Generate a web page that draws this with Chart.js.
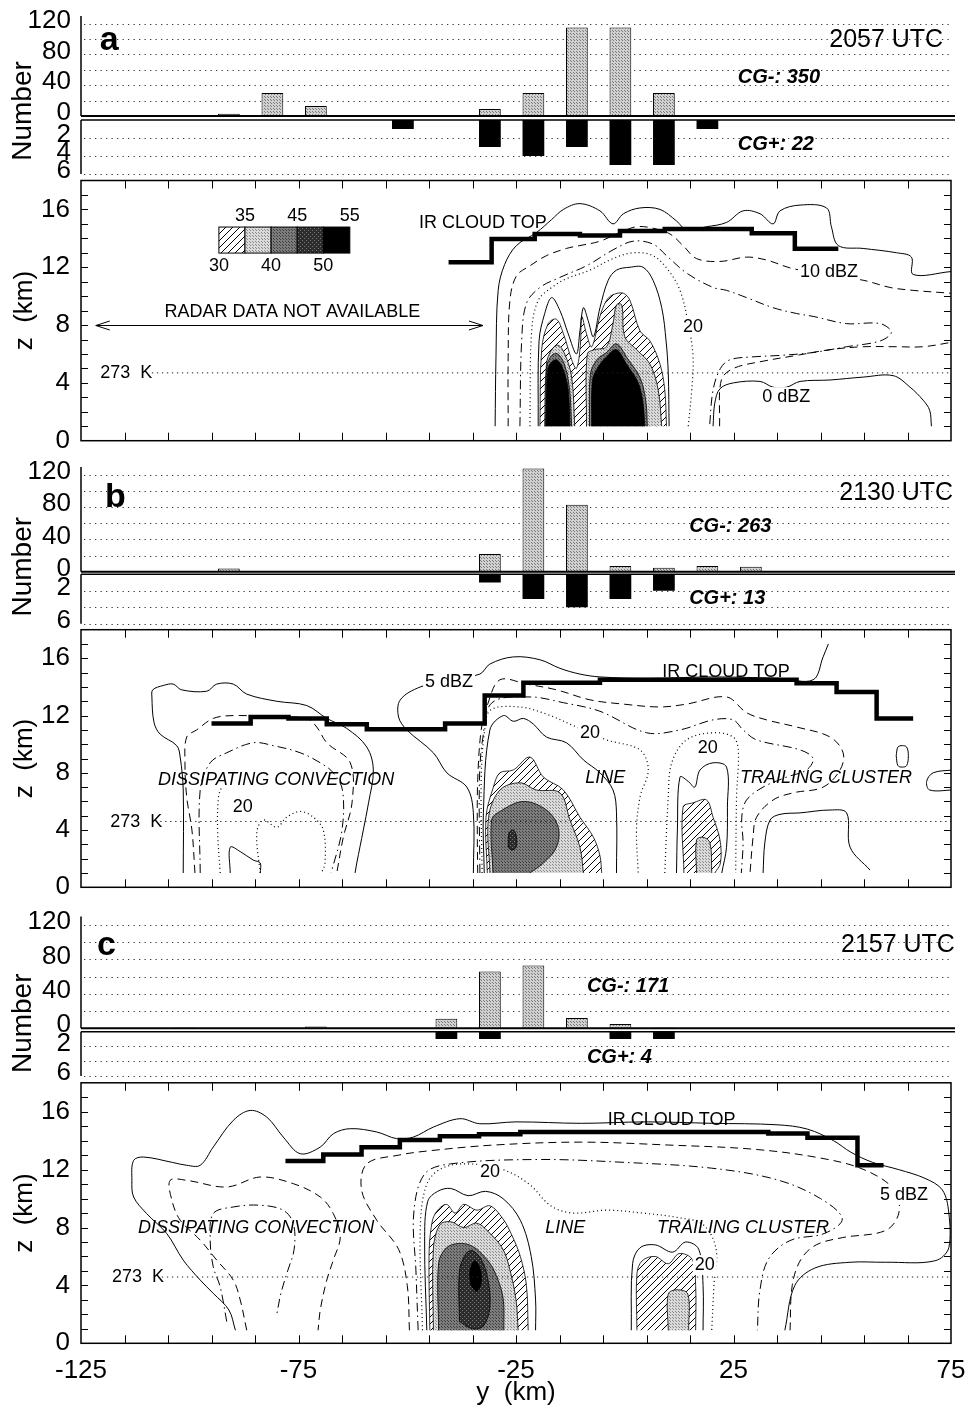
<!DOCTYPE html>
<html><head><meta charset="utf-8">
<script src="https://cdn.jsdelivr.net/npm/chart.js@4.4.1/dist/chart.umd.min.js"></script>
<style>
html,body{margin:0;padding:0;background:#fff}
#wrap{position:relative;width:966px;height:1412px;overflow:hidden;background:#fff}
#wrap canvas{position:absolute;left:0}
</style></head><body><div id="wrap"></div>
<script>
// ================= DATA =================
const binCenters = [-121,-111,-101,-91,-81,-71,-61,-51,-41,-31,-21,-11,-1,9,19,29,39,49,59,69];
const cgNegA = [0,0,1,3,30,13,1,0,0,9,30,115,115,30,0,1,1,0,1,0];
const cgPosA = [0,0,0,0,0,0,0,1,0,3,4,3,5,5,1,0,0,0,0,0];
const cgNegB = [0,0,1,4,0,0,0,0,0,22,128,83,7,5,7,6,0,0,0,0];
const cgPosB = [0,0,0,0,0,0,0,0,0,1,3,4,3,2,0,0,0,0,0,0];
const cgNegC = [0,0,1,0,0,2,0,0,11,66,73,12,5,1,0,0,0,0,0,0];
const cgPosC = [0,0,0,0,0,0,0,0,1,1,0,0,1,1,0,0,0,0,0,0];

const countTicks = [0,40,80,120];
const countGrid = [20,40,60,80,100,120];
const posTicksA = [2,4,6];
const posTicksBC = [2,6];
const posGrid = [2,4,6];
const zTicks = [0,4,8,12,16];
const yKmTicks = [-125,-75,-25,25,75];

// IR cloud top (step: value holds from x to next x)
const irTopA = [[-40.5,12.35],[-30.6,13.96],[-20.7,14.3],[-10.3,14.2],[-1.1,14.5],[9.2,14.65],[29.2,14.35],[39.1,13.27],[49.1,13.27]];
const irTopB = [[-95,11.45],[-86,11.9],[-77.3,11.8],[-68.5,11.4],[-59.3,11.05],[-41.3,11.45],[-32.2,13.4],[-23.3,14.3],[-5.7,14.5],[39.5,14.25],[48.7,13.65],[57.9,11.8],[66.3,11.8]];
const irTopC = [[-78,12.6],[-69.3,13.05],[-60.5,13.55],[-51.7,14.05],[-42.5,14.3],[-33.5,14.45],[-24,14.6],[33,14.5],[42,14.2],[53.5,12.3],[59.5,12.3]];

// 273 K level lines
const t273A = [[-108.7,4.69],[75,4.69]];
const t273B = [[-106.8,4.6],[75,4.6]];
const t273C = [[-106.4,4.58],[75,4.58]];

// ---- panel a reflectivity contours [y km, z km] ----
const aOuterTop = [[-29.8,1.0],[-29.6,5.8],[-29.1,10.4],[-27.6,12.2],[-24.9,13.5],[-20.3,14.4],[-16.8,15.3],[-14.1,16.0],[-10.3,16.4],[-5.7,15.9],[-2.7,15.0],[-0.3,15.7],[3.5,16.1],[8.1,16.0],[11.9,15.2],[14.2,14.6],[18.8,14.8],[23.4,15.1],[27.2,15.9],[31.1,15.7],[34.1,15.0],[35.7,15.9],[40.3,16.3],[46.4,16.1],[47.5,14.8],[49.1,13.5],[54.8,13.3],[62.5,13.0],[65.9,12.7],[66.3,11.5],[75,11.7]];
const aOuterLow = [[20.3,1.0],[20.7,2.6],[21.9,3.6],[25.0,4.0],[31.1,4.1],[34.1,3.7],[37.2,3.7],[40.3,4.1],[47.2,4.2],[54.8,4.4],[61.7,4.5],[65.6,3.7],[68.6,2.8],[70.1,2.1],[70.5,1.0]];
const a10Top = [[-26.8,1.0],[-26.8,5.8],[-26.4,9.7],[-24.9,11.4],[-21.8,12.1],[-18.0,12.8],[-13.4,13.3],[-10.3,13.5],[-5.7,13.8],[-1.1,14.4],[2.7,14.8],[6.5,14.7],[10.4,14.3],[13.4,13.5],[16.5,12.6],[21.9,12.4],[28.0,12.7],[32.6,12.5],[38.7,11.9],[54.8,11.1],[61.0,10.6],[66.3,10.4],[75,10.2]];
const a10Low = [[21.8,1.0],[22.2,4.2],[25.0,5.0],[31.8,5.5],[39.5,5.9],[47.2,6.3],[54.8,6.5],[62.5,6.5],[68.6,6.5],[75,6.8]];
const a15 = [[-24.1,1.0],[-23.7,6.9],[-22.6,9.5],[-19.5,10.6],[-14.9,11.3],[-8.8,12.1],[-2.7,13.2],[1.9,13.8],[6.5,13.6],[9.6,12.8],[14.2,11.6],[20.3,10.6],[23.4,10.4],[28.0,9.9],[34.1,9.2],[39.5,8.8],[43.3,8.6],[51.0,8.1],[58.7,8.1],[61.3,7.5],[58.7,6.9],[51.0,6.5],[43.3,6.1],[35.7,5.9],[29.5,5.8],[24.2,5.6],[22.0,5.0],[20.3,3.5],[19.5,1.0]];
const a20 = [[-21.8,1.0],[-21.4,7.6],[-19.9,9.7],[-16.8,10.6],[-13.4,11.2],[-8.0,11.8],[-2.7,12.6],[1.9,13.0],[6.5,12.8],[10.0,11.8],[12.7,10.4],[14.6,8.1],[15.7,5.8],[15.4,3.5],[14.6,1.0]];
const a25 = [[-19.9,1.0],[-19.7,6.9],[-18.4,8.8],[-16.8,9.9],[-14.9,9.0],[-13.0,7.4],[-11.1,6.0],[-10.3,7.6],[-9.5,9.2],[-8.4,8.3],[-7.2,7.2],[-5.7,9.2],[-3.8,11.1],[-1.9,11.8],[1.2,12.0],[4.2,12.0],[6.5,11.1],[8.5,9.2],[9.5,6.9],[10.0,4.7],[10.2,1.0]];
const a30 = [[-19.5,1.0],[-19.1,6.3],[-17.6,8.1],[-15.7,8.4],[-14.1,7.4],[-12.2,5.6],[-11.1,5.0],[-10.2,6.6],[-9.9,8.6],[-8.8,7.4],[-7.6,6.5],[-5.7,8.6],[-4.2,9.7],[-2.7,10.1],[-0.3,10.2],[1.2,9.7],[3.5,7.6],[5.8,6.9],[8.1,5.3],[9.2,3.5],[9.6,1.0]];
const a35L = [[-18.4,1.0],[-18.0,5.3],[-16.8,6.3],[-15.3,6.6],[-13.8,6.0],[-12.2,4.4],[-11.5,1.0]];
const a35R = [[-8.8,1.0],[-8.6,6.0],[-6.9,6.3],[-4.2,6.5],[-2.7,8.1],[-1.9,9.4],[-0.7,9.4],[0.0,7.2],[2.7,6.3],[5.8,5.3],[7.7,3.5],[8.5,1.0]];
const a40L = [[-18.2,1.0],[-17.9,5.1],[-16.8,5.9],[-15.4,6.0],[-13.9,5.3],[-12.7,3.6],[-12.2,1.0]];
const a40R = [[-8.1,1.0],[-7.9,4.6],[-6.4,5.6],[-4.2,6.1],[-1.9,6.7],[0.6,5.7],[3.6,4.3],[4.9,2.6],[5.2,1.0]];
const a50L = [[-18.1,1.0],[-17.7,4.9],[-16.8,5.45],[-15.5,5.57],[-14.1,4.9],[-13.0,3.5],[-12.6,1.0]];
const a50R = [[-7.6,1.0],[-7.4,4.2],[-6.1,5.1],[-4.2,5.8],[-1.9,6.3],[0.4,5.3],[3.1,4.0],[4.2,2.6],[4.6,1.0]];

// ---- panel b ----
const bDissOuter = [[-101.5,1.0],[-101.5,6.8],[-102.2,9.1],[-103.0,9.9],[-106.8,10.7],[-108.2,11.5],[-108.7,13.3],[-108.5,13.8],[-106.1,14.1],[-103.8,14.2],[-101.9,13.8],[-96.1,13.7],[-93.8,14.2],[-90.0,14.2],[-86.9,13.5],[-80.0,13.0],[-73.1,12.7],[-68.5,11.8],[-63.9,11.1],[-59.3,9.8],[-57.8,8.2],[-58.9,5.9],[-60.1,4.0],[-61.6,1.7],[-62.0,1.0]];
const bDiss10 = [[-98.8,1.0],[-99.5,4.0],[-100.7,6.3],[-101.1,8.7],[-100.7,10.5],[-98.4,11.0],[-94.6,11.8],[-90.0,12.0],[-80.0,11.9],[-73.1,11.8],[-70.8,11.2],[-68.5,10.1],[-63.1,8.7],[-62.7,5.9],[-64.7,3.5],[-66.2,1.0]];
const bDiss15 = [[-97.6,1.0],[-97.6,6.8],[-95.3,8.7],[-91.5,9.4],[-85.4,10.1],[-80.8,9.9],[-74.6,9.4],[-70.0,8.7],[-67.0,8.0],[-64.9,6.8],[-65.0,4.0],[-67.5,1.0]];
const bDiss20a = [[-93.0,1.0],[-93.6,4.0],[-93.4,6.3],[-92.7,7.0]];
const bDiss20b = [[-83.8,1.0],[-84.6,3.8],[-83.1,4.7],[-80.0,4.2],[-77.7,4.9],[-74.6,5.3],[-71.6,4.9],[-69.3,4.0],[-68.9,1.7],[-69.7,1.0]];
const bDiss25 = [[-90.7,1.0],[-90.7,2.8],[-88.4,2.5],[-85.4,1.9],[-83.8,1.7],[-83.8,1.0]];
const bLineOuter = [[-34.8,1.0],[-34.8,5.2],[-36.3,7.0],[-40.9,8.0],[-44.0,9.4],[-50.1,11.0],[-52.0,11.9],[-51.6,13.1],[-47.0,14.0],[-40.0,14.5],[-33.3,14.9],[-31.0,15.6],[-25.6,16.1],[-19.5,15.9],[-14.9,15.3],[-10.3,14.9],[-5.7,14.7],[5.0,14.6],[20.3,14.7],[35.7,14.6],[43.3,14.5],[45.6,16.1],[46.8,17.0]];
const bTrailOuter = [[31.8,1.0],[32.2,3.1],[33.4,4.7],[35.7,5.1],[40.3,5.2],[47.2,5.4],[51.0,5.2],[51.8,2.8],[56.4,1.2]];
const bBlob1 = [[62.4,9.2],[62.8,9.8],[63.8,9.9],[64.8,9.8],[65.2,9.2],[64.8,8.5],[63.8,8.4],[62.8,8.5],[62.4,9.2]];
const bBlob2 = [[75.5,8.2],[70.9,8.0],[69.4,7.4],[70.1,6.8],[75.5,6.8]];
const bLine10 = [[-33.8,1.0],[-33.9,4.0],[-33.8,7.5],[-33.0,11.0],[-31.5,12.8],[-28.7,14.5],[-22.6,14.2],[-15.7,13.8],[-8.0,13.1],[-0.3,12.8],[8.1,12.6],[14.2,12.8],[23.4,13.3],[28.0,12.2],[32.6,11.7],[39.5,11.2],[47.2,10.5],[50.2,9.4],[49.5,8.2],[45.6,7.0],[38.7,6.6],[34.1,6.1],[30.3,4.9],[29.5,3.5],[28.8,1.0]];
const bLine15 = [[-33.3,1.0],[-33.4,7.5],[-32.6,10.5],[-30.5,12.9],[-21.8,13.3],[-14.1,12.9],[-5.7,12.3],[5.0,10.8],[12.7,11.0],[20.3,11.7],[24.9,11.7],[27.2,11.0],[30.3,10.3],[40.3,9.6],[43.3,9.0],[41.8,8.2],[37.2,7.7],[31.8,7.0],[28.0,6.1],[26.9,4.9],[27.2,3.1],[26.8,1.0]];
const bLine20 = [[-32.8,1.0],[-33.0,7.5],[-32.2,11.0],[-30.8,12.4],[-24.1,12.6],[-18.0,12.1],[-11.1,11.2],[-4.2,10.3],[3.5,9.6],[5.4,8.2],[3.5,6.3],[2.7,4.0],[3.1,1.0]];
const bLine20b = [[9.2,1.0],[10.0,6.3],[10.8,8.7],[14.2,10.3],[20.3,10.8],[24.9,10.5],[26.1,9.6],[25.7,6.3],[25.5,1.0]];
const bLine25 = [[-32.3,1.0],[-32.5,5.2],[-31.0,11.0],[-27.9,12.0],[-25.6,11.6],[-23.3,11.8],[-21.0,11.4],[-18.0,10.5],[-13.4,10.1],[-9.5,8.9],[-5.7,8.0],[-2.7,6.8],[-1.9,5.2],[-1.9,1.0]];
const bLine25b = [[11.9,1.0],[12.1,4.0],[12.7,7.7],[14.6,7.4],[16.1,7.0],[17.3,8.2],[20.3,8.7],[23.4,8.4],[23.6,5.6],[23.4,2.8],[22.3,1.0]];
const bLine30 = [[-31.6,1.0],[-31.9,4.9],[-30.2,7.0],[-28.7,8.0],[-25.6,8.2],[-21.8,9.1],[-18.7,7.7],[-14.1,6.8],[-10.3,4.9],[-7.2,3.5],[-5.7,2.2],[-5.3,1.0]];
const bTrail30 = [[13.6,1.0],[13.4,5.6],[15.7,5.9],[18.8,6.1],[20.3,4.9],[21.9,3.3],[22.0,1.7],[20.7,1.0]];
const bLine35 = [[-31.0,1.0],[-31.3,4.9],[-28.7,6.8],[-24.1,7.3],[-20.3,6.8],[-14.9,6.6],[-12.6,4.7],[-10.3,2.8],[-9.5,1.0]];
const bTrail35 = [[16.5,1.0],[16.5,3.3],[18.0,3.5],[19.6,3.1],[20.0,1.0]];
const bLine40 = [[-30.3,1.0],[-30.6,4.7],[-28.7,5.3],[-23.3,6.0],[-18.0,5.4],[-15.3,4.2],[-15.7,2.8],[-18.7,1.7],[-21.8,1.0]];
const bLine45 = [[-26.8,2.8],[-26.6,3.8],[-25.6,4.0],[-24.9,3.5],[-25.0,2.8],[-26.0,2.6],[-26.8,2.8]];

// ---- panel c ----
const cOuter = [[-89.5,0.9],[-91,2.3],[-94.6,3.45],[-97.6,4.37],[-101.5,5.75],[-105.3,7.59],[-109.9,8.96],[-112.9,10.11],[-113.3,11.26],[-112.9,12.64],[-110.6,12.87],[-104,12.5],[-100.7,12.3],[-97.6,12.3],[-94.6,13.56],[-90.0,15.4],[-86.1,16.09],[-82.3,15.63],[-78.5,14.25],[-74.6,13.1],[-70.0,13.56],[-67.0,14.48],[-63.1,14.83],[-57.0,14.6],[-52.4,14.14],[-48.6,14.25],[-44.0,14.94],[-37.9,15.52],[-33.3,15.17],[-25,15.3],[-10,15.2],[5,15.3],[20,15.2],[35,15.1],[42,14.8],[48,14.0],[52,13.2],[57,12.5],[63,12.0],[69,11.4],[73,10.6],[74.5,9.0],[74.5,6.6],[71.3,5.7],[60,5.6],[51.8,5.6],[43.7,5.2],[39.1,4.0],[36.8,0.9]];
const c10L = [[-86.9,0.9],[-88.4,3.0],[-90.0,4.37],[-93.8,5.75],[-97.6,7.13],[-102.2,8.51],[-104.1,9.88],[-104.5,11.26],[-100.7,11.26],[-91.5,10.8],[-83.8,11.49],[-76.2,11.03],[-70.0,10.11],[-67.0,8.96],[-65.4,7.36],[-67.0,5.75],[-68.5,4.37],[-70.0,2.3],[-70.5,0.9]];
const c15L = [[-91.5,1.5],[-93.0,3.9],[-94.6,5.29],[-95.3,7.13],[-94.6,8.96],[-90.0,9.42],[-83.8,9.54],[-78.5,9.19],[-76.2,8.28],[-76.0,6.5],[-77.5,5.0],[-79,3.5],[-80,2.0]];
const c10R = [[-49.5,0.9],[-50,4],[-52,6.5],[-57,8.5],[-60.5,10.6],[-59.3,12.4],[-52,13.0],[-45,13.3],[-30,13.7],[-10,13.9],[10,13.7],[30,13.4],[45,12.8],[55,12.0],[62,10.6],[63,9.0],[60,7.8],[50,7.3],[44,6.8],[40.5,5.8],[38.5,4.0],[38,0.9]];
const c15R = [[-47.5,0.9],[-48,5],[-48.5,9],[-46,11.7],[-40,12.4],[-20,12.7],[0,12.5],[20,12.1],[35,11.3],[45,10.0],[50,8.6],[46,7.6],[38,7.1],[33,5.8],[31,3.5],[30.5,0.9]];
const c20 = [[-46.5,0.9],[-47,8],[-45.5,11],[-42,12.1],[-36,12.4],[-28,12.0],[-22,11.0],[-17,9.5],[-12,9.0],[-4,9.2],[4,9.0],[12,8.7],[18,8.2],[21,6.5],[20.5,4],[20,0.9]];
const c25 = [[-45.5,0.9],[-46,7],[-45.3,9.8],[-43,10.5],[-40,10.7],[-36,10.2],[-32,10.5],[-28,10],[-24,8.5],[-21.5,6],[-20.5,3],[-20.5,0.9]];
const c25b = [[1.5,0.9],[1.8,5.5],[3.5,6.6],[7,6.8],[11,6.3],[14,7.0],[17,6.5],[18,4],[18,0.9]];
const c30 = [[-44.8,0.9],[-45,6],[-44.5,8.0],[-43.5,9.0],[-41,9.6],[-39,9.0],[-37,9.6],[-34,9.2],[-31,9.5],[-28,8.6],[-26,7.5],[-24,6],[-22.6,4.0],[-22.2,0.9]];
const c30b = [[2.8,0.9],[2.8,4.8],[4,5.7],[7,6.0],[10,5.5],[12.5,6.2],[15.5,5.8],[16.3,4],[16.3,0.9]];
const c35 = [[-44,0.9],[-44,6.5],[-42.5,8.2],[-40,8.4],[-37,8.0],[-34,8.3],[-31,7.6],[-28,6.5],[-26.5,5.2],[-25,3],[-24.5,0.9]];
const c35b = [[10,0.9],[10,3.4],[12,3.7],[14.5,3.4],[14.7,0.9]];
const c40 = [[-42.8,0.9],[-42.8,5.5],[-41,6.6],[-38,6.9],[-35,6.7],[-32,5.9],[-30,5.0],[-28,3.2],[-27.8,0.9]];
const c45 = [[-38,1.5],[-38,5.0],[-36.5,6.2],[-35,6.4],[-33,5.8],[-31.5,4.5],[-31,2.5],[-32.5,1.2],[-35,1.0],[-38,1.5]];
const c50 = [[-35.4,4.0],[-35.6,5.0],[-34.5,5.7],[-33.3,5.2],[-33,4.2],[-34,3.6],[-35.4,4.0]];

// ================= RENDERING =================
const FONT = '"Liberation Sans", Arial, Helvetica, sans-serif';
Chart.defaults.font.family = FONT;
Chart.defaults.color = '#000';
Chart.defaults.animation = false;
Chart.defaults.events = [];
Chart.defaults.plugins.legend.display = false;
Chart.defaults.plugins.tooltip.enabled = false;

const W = 966, LEFT = 81, RIGHT = 951;
const GEO = {
  a:{up:[15.9,116], dn:[120,174], z:[180.5,440.7]},
  b:{up:[467,571.7], dn:[574.3,623.7], z:[629.7,887.3]},
  c:{up:[916.4,1028.3], dn:[1031.7,1076], z:[1082.8,1343.3]}
};

function mkPattern(base, dot, size, hatch){
  const c = document.createElement('canvas'); c.width = c.height = size;
  const g = c.getContext('2d');
  g.fillStyle = base; g.fillRect(0,0,size,size);
  if (hatch){
    g.strokeStyle = '#000'; g.lineWidth = 1; g.beginPath();
    g.moveTo(0,size); g.lineTo(size,0);
    g.moveTo(-2,2); g.lineTo(2,-2);
    g.moveTo(size-2,size+2); g.lineTo(size+2,size-2);
    g.stroke();
  } else if (dot){
    g.fillStyle = dot; g.fillRect(0,0,1,1); g.fillRect(Math.floor(size/2),Math.floor(size/2),1,1);
  }
  return g.createPattern(c,'repeat');
}
const PAT = {
  bar: mkPattern('#d0d0d0','#7a7a7a',3),
  p30: mkPattern('#ffffff',null,7,true),
  p35: mkPattern('#dadada','#8a8a8a',3),
  p40: mkPattern('#7c7c7c','#404040',3),
  p45: mkPattern('#2c2c2c','#7a7a7a',4),
  p50: '#000000'
};
const LINE_STYLES = {
  solid:{borderDash:[], borderWidth:1},
  dash:{borderDash:[8,5], borderWidth:1},
  dashdot:{borderDash:[9,4,1.5,4], borderWidth:1},
  dot:{borderDash:[1,3], borderWidth:1.2}
};

const P = arr => arr.map(p => ({x:p[0], y:p[1]}));

function addCanvas(top,h){
  const c = document.createElement('canvas');
  c.width = W; c.height = h;
  c.style.top = top+'px'; c.style.width = W+'px'; c.style.height = h+'px';
  document.getElementById('wrap').appendChild(c);
  return c;
}
function txt(ctx,s,x,y,font,align,base,bg){
  ctx.save();
  ctx.font = font + ' ' + FONT;
  ctx.textAlign = align || 'left';
  ctx.textBaseline = base || 'middle';
  if (bg){
    const w = ctx.measureText(s).width;
    const fs = parseFloat(font.match(/(\d+(\.\d+)?)px/)[1]);
    let x0 = x; if (ctx.textAlign==='center') x0 = x-w/2; else if (ctx.textAlign==='right') x0 = x-w;
    ctx.fillStyle = '#fff'; ctx.fillRect(x0-2, y-fs*0.55, w+4, fs*1.1);
  }
  ctx.fillStyle = '#000';
  ctx.fillText(s,x,y);
  ctx.restore();
}
function dottedH(ctx,x0,x1,y){
  ctx.save(); ctx.strokeStyle='#3a3a3a'; ctx.lineWidth=1; ctx.setLineDash([1.3,4.2]);
  const yy = Math.round(y)+0.5;
  ctx.beginPath(); ctx.moveTo(x0,yy); ctx.lineTo(x1,yy); ctx.stroke(); ctx.restore();
}
function yFit(s){ s.width = LEFT; s.paddingTop = 0; s.paddingBottom = 0; }

// ---------- bar (lightning count) charts ----------
function barChart(key, part, values, tickVals, notes){
  const [aTop,aBot] = GEO[key][part];
  const isUp = part === 'up';
  const cTop = Math.max(0, Math.floor(aTop-15));
  const cBot = isUp ? Math.ceil(GEO[key].dn[1]+14) : Math.ceil(aBot+14);
  const canvas = addCanvas(cTop, cBot-cTop);
  const gridVals = isUp ? countGrid : posGrid;
  const plug = {
    id:'bars'+key+part,
    beforeDatasetsDraw(chart){
      const {ctx, chartArea:a, scales:{y}} = chart;
      gridVals.forEach(v => dottedH(ctx, a.left+3, a.right, y.getPixelForValue(v)));
    },
    afterDatasetsDraw(chart){
      const {ctx, chartArea:a, scales:{x,y}} = chart;
      const y0 = y.getPixelForValue(0);
      ctx.save(); ctx.strokeStyle='#000';
      ctx.lineWidth = 1.5; ctx.beginPath();
      ctx.moveTo(a.left, isUp ? a.top : y0); ctx.lineTo(a.left, isUp ? y0 : a.bottom); ctx.stroke();
      ctx.lineWidth = isUp ? 2 : 1.5; ctx.beginPath();
      ctx.moveTo(a.left, y0); ctx.lineTo(a.right+4, y0); ctx.stroke();
      ctx.restore();
      notes.forEach(n => txt(ctx, n.t, x.getPixelForValue(n.x), y.getPixelForValue(n.y), n.f, n.a, 'alphabetic'));
      if (isUp){
        ctx.save(); ctx.translate(23, y0-5); ctx.rotate(-Math.PI/2);
        ctx.font = '28px '+FONT; ctx.textAlign='center'; ctx.textBaseline='middle'; ctx.fillStyle='#000';
        ctx.fillText('Number',0,0); ctx.restore();
      }
    }
  };
  new Chart(canvas, {
    type:'bar',
    data:{datasets:[{
      data: binCenters.map((xv,i)=>({x:xv, y:values[i]})),
      backgroundColor: isUp ? PAT.bar : '#000',
      borderColor:'#000', borderWidth: isUp ? 1 : 0,
      categoryPercentage:1, barPercentage:0.5
    }]},
    options:{
      responsive:false, maintainAspectRatio:false, devicePixelRatio:1, animation:false,
      layout:{autoPadding:false, padding:{left:0, right:W-RIGHT, top:aTop-cTop, bottom:cBot-aBot}},
      scales:{
        x:{type:'linear', min:-125, max:75, offset:false, display:false},
        y:{type:'linear', min:0, max: isUp ? 130 : 6, reverse: !isUp,
           afterFit: yFit,
           afterBuildTicks: s => { s.ticks = tickVals.map(v=>({value:v})); },
           ticks:{font:{size:26}, padding:10, color:'#000', autoSkip:false, labelOffset:-3},
           grid:{display:false, drawTicks:false}, border:{display:false}}
      }
    },
    plugins:[plug]
  });
}

// ---------- reflectivity cross-section charts ----------
function contourDatasets(layers){
  return layers.map((L,i) => {
    const ds = {data:P(L.d), showLine:true, pointRadius:0, tension:0.35, borderColor:'#000'};
    if (L.fill){
      ds.fill = 'shape'; ds.backgroundColor = PAT[L.fill];
      ds.borderWidth = 0.8; ds.borderDash = []; ds.order = 200 - i;
    } else {
      Object.assign(ds, LINE_STYLES[L.line]); ds.fill = false; ds.order = 100 - i;
    }
    return ds;
  });
}
function contourChart(key, layers, ir, tLine, notes, showX, extra){
  const [aTop,aBot] = GEO[key].z;
  const cTop = Math.floor(aTop-14);
  const cBot = showX ? 1412 : Math.ceil(aBot+14);
  const canvas = addCanvas(cTop, cBot-cTop);
  const datasets = contourDatasets(layers);
  datasets.push({data:P(tLine), showLine:true, pointRadius:0, tension:0, borderColor:'#222', borderWidth:1, borderDash:[1.3,3.7], fill:false, order:20});
  datasets.push({data:P(ir), showLine:true, pointRadius:0, tension:0, stepped:true, borderColor:'#000', borderWidth:4.5, borderCapStyle:'butt', borderJoinStyle:'miter', fill:false, order:1});
  const plug = {
    id:'deco'+key,
    afterDatasetsDraw(chart){
      const {ctx, chartArea:a, scales:{x,y}} = chart;
      ctx.save(); ctx.strokeStyle='#000'; ctx.lineWidth=1.5;
      ctx.strokeRect(a.left, a.top, a.right-a.left, a.bottom-a.top);
      ctx.lineWidth = 1; ctx.beginPath();
      for (let v=-115; v<75; v+=10){
        const px = Math.round(x.getPixelForValue(v))+0.5;
        ctx.moveTo(px,a.bottom); ctx.lineTo(px,a.bottom-8);
        ctx.moveTo(px,a.top); ctx.lineTo(px,a.top+8);
      }
      for (let v=1; v<18; v++){
        const py = Math.round(y.getPixelForValue(v))+0.5;
        ctx.moveTo(a.left,py); ctx.lineTo(a.left+7,py);
        ctx.moveTo(a.right,py); ctx.lineTo(a.right-7,py);
      }
      ctx.stroke(); ctx.restore();
      if (extra) extra(chart);
      notes.forEach(n => txt(ctx, n.t, x.getPixelForValue(n.x), y.getPixelForValue(n.y), n.f, n.a, 'middle', n.bg));
    }
  };
  const xScale = {type:'linear', min:-125, max:75, display: showX,
           afterBuildTicks: s => { s.ticks = yKmTicks.map(v=>({value:v})); },
           ticks:{font:{size:26}, padding:4, color:'#000', maxRotation:0, autoSkip:false},
           grid:{display:false}, border:{display:false},
           title:{display: showX, text:'y  (km)', font:{size:26}, color:'#000', padding:{top:2,bottom:4}}};
  if (showX) xScale.afterFit = s => { s.height = 1412-aBot; s.paddingLeft = 0; s.paddingRight = 0; };
  new Chart(canvas, {
    type:'scatter',
    data:{datasets},
    options:{
      responsive:false, maintainAspectRatio:false, devicePixelRatio:1, animation:false,
      layout:{autoPadding:false, padding:{left:0, right:W-RIGHT, top:aTop-cTop, bottom: showX ? 0 : cBot-aBot}},
      scales:{
        x: xScale,
        y:{type:'linear', min:0, max:18,
           afterFit: yFit,
           afterBuildTicks: s => { s.ticks = zTicks.map(v=>({value:v})); },
           ticks:{font:{size:26}, padding:11, color:'#000', autoSkip:false},
           grid:{display:false, drawTicks:false}, border:{display:false},
           title:{display:true, text:'z  (km)', font:{size:26}, color:'#000', padding:{top:9,bottom:4}}}
      }
    },
    plugins:[plug]
  });
}

// ---------- panel definitions ----------
const radarGap = [-121.6, -32.6], radarZ = 8;
const legendEdges = [-93.3,-87.3,-81.3,-75.3,-69.3,-63.2];
const legendFills = ['p30','p35','p40','p45','p50'];
const legendZ = [12.98, 14.78];
const legendTop = ['35','45','55'], legendBottom = ['30','40','50'];

function extraA(chart){
  const {ctx, scales:{x,y}} = chart;
  const x0 = x.getPixelForValue(radarGap[0]), x1 = x.getPixelForValue(radarGap[1]), yy = Math.round(y.getPixelForValue(radarZ))+0.5;
  ctx.save(); ctx.strokeStyle='#000'; ctx.lineWidth=1;
  ctx.beginPath(); ctx.moveTo(x0,yy); ctx.lineTo(x1,yy);
  ctx.moveTo(x0+14,yy-4.5); ctx.lineTo(x0,yy); ctx.lineTo(x0+14,yy+4.5);
  ctx.moveTo(x1-14,yy-4.5); ctx.lineTo(x1,yy); ctx.lineTo(x1-14,yy+4.5);
  ctx.stroke();
  const yT = y.getPixelForValue(legendZ[1]), yB = y.getPixelForValue(legendZ[0]);
  for (let i=0;i<5;i++){
    const xa = x.getPixelForValue(legendEdges[i]), xb = x.getPixelForValue(legendEdges[i+1]);
    ctx.fillStyle = PAT[legendFills[i]]; ctx.fillRect(xa,yT,xb-xa,yB-yT);
    ctx.strokeRect(xa,yT,xb-xa,yB-yT);
  }
  ctx.restore();
  legendTop.forEach((s,i)=>txt(ctx,s,x.getPixelForValue(legendEdges[2*i+1]),yT-11,'18px','center','middle'));
  legendBottom.forEach((s,i)=>txt(ctx,s,x.getPixelForValue(legendEdges[2*i]),yB+13,'18px','center','middle'));
}

const layersA = [
  {d:a30, fill:'p30'}, {d:a35L, fill:'p35'}, {d:a35R, fill:'p35'},
  {d:a40L, fill:'p40'}, {d:a40R, fill:'p40'}, {d:a50L, fill:'p50'}, {d:a50R, fill:'p50'},
  {d:aOuterTop, line:'solid'}, {d:aOuterLow, line:'solid'},
  {d:a10Top, line:'dash'}, {d:a10Low, line:'dash'},
  {d:a15, line:'dashdot'}, {d:a20, line:'dot'}, {d:a25, line:'solid'}
];
const layersB = [
  {d:bLine30, fill:'p30'}, {d:bTrail30, fill:'p30'},
  {d:bLine35, fill:'p35'}, {d:bTrail35, fill:'p35'},
  {d:bLine40, fill:'p40'}, {d:bLine45, fill:'p45'},
  {d:bDissOuter, line:'solid'}, {d:bDiss10, line:'dash'}, {d:bDiss15, line:'dashdot'},
  {d:bDiss20a, line:'dot'}, {d:bDiss20b, line:'dot'}, {d:bDiss25, line:'solid'},
  {d:bLineOuter, line:'solid'}, {d:bTrailOuter, line:'solid'}, {d:bBlob1, line:'solid'}, {d:bBlob2, line:'solid'},
  {d:bLine10, line:'dash'}, {d:bLine15, line:'dashdot'}, {d:bLine20, line:'dot'}, {d:bLine20b, line:'dot'},
  {d:bLine25, line:'solid'}, {d:bLine25b, line:'solid'}
];
const layersC = [
  {d:c30, fill:'p30'}, {d:c30b, fill:'p30'}, {d:c35, fill:'p35'}, {d:c35b, fill:'p35'},
  {d:c40, fill:'p40'}, {d:c45, fill:'p45'}, {d:c50, fill:'p50'},
  {d:cOuter, line:'solid'}, {d:c10L, line:'dash'}, {d:c15L, line:'dashdot'},
  {d:c10R, line:'dash'}, {d:c15R, line:'dashdot'}, {d:c20, line:'dot'},
  {d:c25, line:'solid'}, {d:c25b, line:'solid'}
];

const notesA = [
  {t:'IR CLOUD TOP', x:-32.6, y:15.05, f:'18px', a:'center'},
  {t:'RADAR DATA NOT AVAILABLE', x:-76.4, y:8.9, f:'18px', a:'center'},
  {t:'273  K', x:-120.6, y:4.69, f:'18px', a:'left'},
  {t:'10 dBZ', x:40.3, y:11.68, f:'18px', a:'left', bg:true},
  {t:'0 dBZ', x:31.6, y:3.02, f:'18px', a:'left', bg:true},
  {t:'20', x:13.4, y:7.87, f:'18px', a:'left', bg:true}
];
const notesB = [
  {t:'5 dBZ', x:-45.9, y:14.35, f:'18px', a:'left', bg:true},
  {t:'IR CLOUD TOP', x:8.6, y:15.05, f:'18px', a:'left'},
  {t:'20', x:-10.3, y:10.78, f:'18px', a:'left', bg:true},
  {t:'20', x:16.8, y:9.73, f:'18px', a:'left', bg:true},
  {t:'DISSIPATING CONVECTION', x:-107.3, y:7.5, f:'italic 18px', a:'left'},
  {t:'20', x:-90.1, y:5.61, f:'18px', a:'left', bg:true},
  {t:'273  K', x:-118.3, y:4.56, f:'18px', a:'left'},
  {t:'LINE', x:-9.1, y:7.64, f:'italic 18px', a:'left'},
  {t:'TRAILING CLUSTER', x:26.5, y:7.64, f:'italic 18px', a:'left'}
];
const notesC = [
  {t:'IR CLOUD TOP', x:-3.9, y:15.42, f:'18px', a:'left'},
  {t:'20', x:-33.3, y:11.84, f:'18px', a:'left', bg:true},
  {t:'5 dBZ', x:58.7, y:10.25, f:'18px', a:'left', bg:true},
  {t:'DISSIPATING CONVECTION', x:-111.9, y:7.97, f:'italic 18px', a:'left'},
  {t:'LINE', x:-18.3, y:7.97, f:'italic 18px', a:'left'},
  {t:'TRAILING CLUSTER', x:7.4, y:7.97, f:'italic 18px', a:'left'},
  {t:'273  K', x:-117.9, y:4.58, f:'18px', a:'left'},
  {t:'20', x:16.1, y:5.41, f:'18px', a:'left', bg:true}
];

barChart('a','up', cgNegA, countTicks, [
  {t:'a', x:-120.7, y:85.7, f:'bold 34px', a:'left'},
  {t:'2057 UTC', x:73.2, y:89.6, f:'25px', a:'right'},
  {t:'CG-: 350', x:26.0, y:42.9, f:'italic bold 20px', a:'left'}]);
barChart('a','dn', cgPosA, posTicksA, [{t:'CG+: 22', x:26.0, y:3.33, f:'italic bold 20px', a:'left'}]);
contourChart('a', layersA, irTopA, t273A, notesA, false, extraA);
barChart('b','up', cgNegB, countTicks, [
  {t:'b', x:-119.5, y:80.3, f:'bold 34px', a:'left'},
  {t:'2130 UTC', x:75.5, y:89, f:'25px', a:'right'},
  {t:'CG-: 263', x:14.8, y:49.3, f:'italic bold 20px', a:'left'}]);
barChart('b','dn', cgPosB, posTicksBC, [{t:'CG+: 13', x:14.8, y:3.6, f:'italic bold 20px', a:'left'}]);
contourChart('b', layersB, irTopB, t273B, notesB, false, null);
barChart('c','up', cgNegC, countTicks, [
  {t:'c', x:-121.3, y:85.1, f:'bold 34px', a:'left'},
  {t:'2157 UTC', x:75.9, y:88.6, f:'25px', a:'right'},
  {t:'CG-: 171', x:-8.7, y:42.2, f:'italic bold 20px', a:'left'}]);
barChart('c','dn', cgPosC, posTicksBC, [{t:'CG+: 4', x:-8.7, y:4.24, f:'italic bold 20px', a:'left'}]);
contourChart('c', layersC, irTopC, t273C, notesC, true, null);
</script>
</body></html>
